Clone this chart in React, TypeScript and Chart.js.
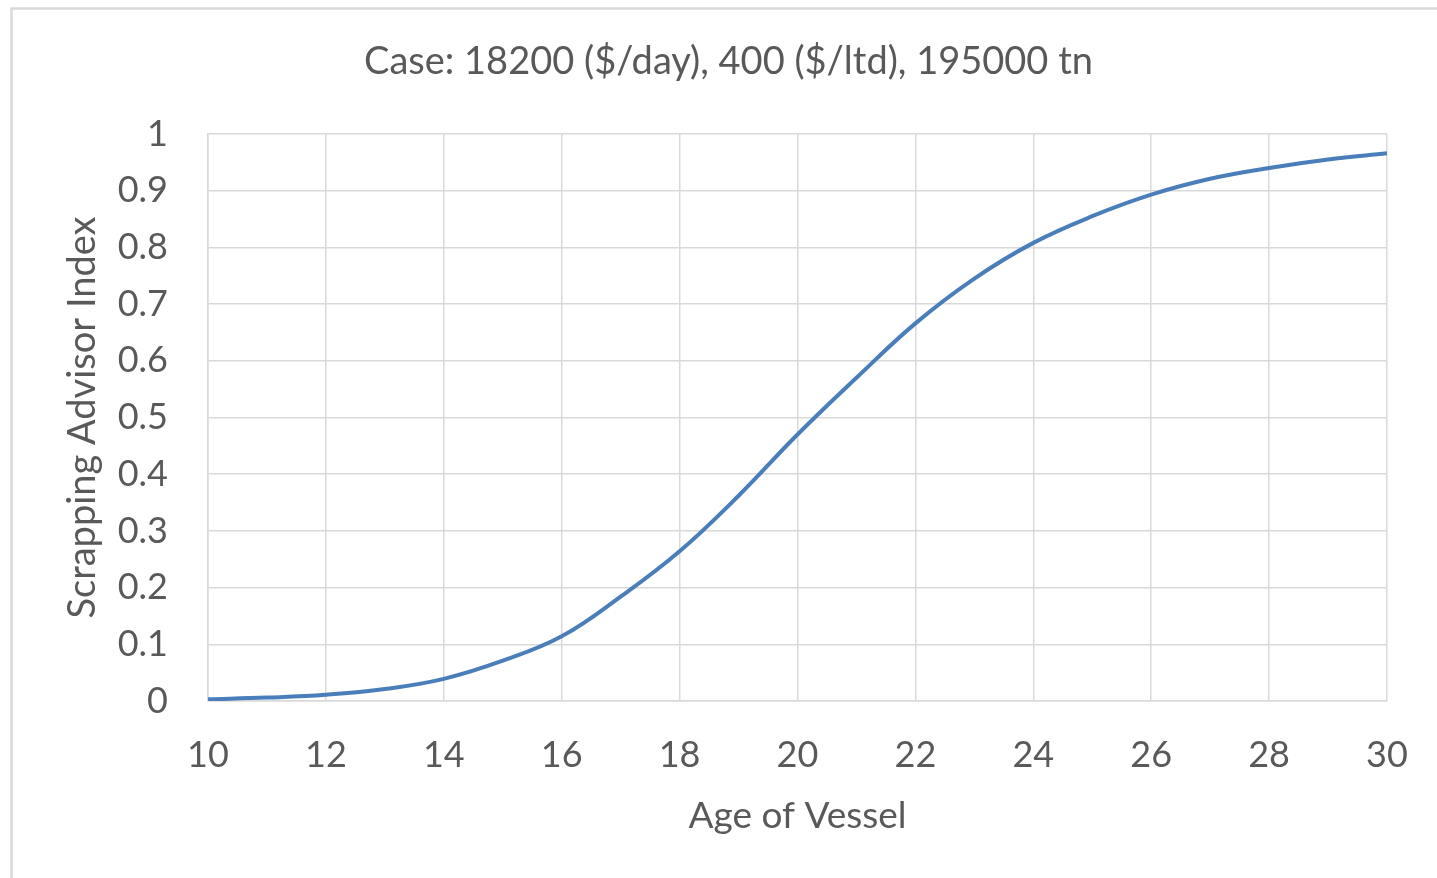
import React, { useEffect, useRef } from "react";
import { Chart, registerables } from "chart.js";

Chart.register(...registerables);

const chartTitle = "Case: 18200 ($/day), 400 ($/ltd), 195000 tn";
const xAxisTitle = "Age of Vessel";
const yAxisTitle = "Scrapping Advisor Index";

const ages = [10, 11, 12, 13, 14, 15, 16, 17, 18, 19, 20, 21, 22, 23, 24, 25, 26, 27, 28, 29, 30];
const indexValues = [
  0.003, 0.006, 0.011, 0.021, 0.039, 0.071, 0.114, 0.184, 0.264, 0.362, 0.47,
  0.57, 0.666, 0.745, 0.808, 0.855, 0.893, 0.921, 0.94, 0.955, 0.966,
];
const xTickLabels = ["10", "12", "14", "16", "18", "20", "22", "24", "26", "28", "30"];
const yTickLabels = ["0", "0.1", "0.2", "0.3", "0.4", "0.5", "0.6", "0.7", "0.8", "0.9", "1"];

const FONT = "Lato, 'Open Sans', sans-serif";
const TEXT = "#595959";
const GRID = "#d9d9d9";

export default function App() {
  const ref = useRef<HTMLCanvasElement | null>(null);

  useEffect(() => {
    if (!ref.current) return;
    const framePlugin = {
      id: "frame",
      beforeDraw(chart: any) {
        const ctx = chart.ctx;
        ctx.save();
        ctx.fillStyle = "#ffffff";
        ctx.fillRect(0, 0, chart.width, chart.height);
        ctx.strokeStyle = GRID;
        ctx.lineWidth = 2.5;
        ctx.strokeRect(11.5, 8.5, 3000, 3000);
        ctx.fillStyle = TEXT;
        ctx.font = `38px ${FONT}`;
        ctx.textAlign = "center";
        ctx.textBaseline = "middle";
        ctx.fillText(chartTitle, 728.5, 61.5);
        ctx.restore();
      },
    };

    const chart = new Chart(ref.current, {
      type: "line",
      data: {
        datasets: [
          {
            data: ages.map((a, i) => ({ x: a, y: indexValues[i] })),
            borderColor: "#4a7ebb",
            backgroundColor: "#4a7ebb",
            borderWidth: 4,
            pointRadius: 0,
            tension: 0.4,
            fill: false,
          },
        ],
      },
      options: {
        responsive: false,
        animation: false,
        devicePixelRatio: 1,
        layout: { padding: { top: 134, right: 50, bottom: 0, left: 0 } },
        plugins: { legend: { display: false }, tooltip: { enabled: false }, title: { display: false } },
        scales: {
          x: {
            type: "linear",
            min: 10,
            max: 30,
            afterFit(scale: any) {
              scale.height = 177;
              scale.paddingLeft = 0;
              scale.paddingRight = 0;
            },
            afterBuildTicks(scale: any) {
              scale.ticks = xTickLabels.map((l) => ({ value: Number(l) }));
            },
            ticks: {
              color: TEXT,
              font: { family: FONT, size: 36 },
              padding: 33,
              maxRotation: 0,
              autoSkip: false,
              callback: (v: any, i: number) => xTickLabels[i],
            },
            grid: { color: GRID, lineWidth: 1.5, drawTicks: false },
            border: { color: GRID, width: 1.5 },
            title: {
              display: true,
              text: xAxisTitle,
              color: TEXT,
              font: { family: FONT, size: 37, lineHeight: 1.2 },
              padding: { top: 0, bottom: 40 },
            },
          },
          y: {
            type: "linear",
            min: 0,
            max: 1,
            afterFit(scale: any) {
              scale.width = 208;
              scale.paddingTop = 0;
              scale.paddingBottom = 0;
            },
            afterBuildTicks(scale: any) {
              scale.ticks = yTickLabels.map((l) => ({ value: Number(l) }));
            },
            ticks: {
              color: TEXT,
              font: { family: FONT, size: 36 },
              padding: 40,
              autoSkip: false,
              callback: (v: any, i: number) => yTickLabels[i],
            },
            grid: { color: GRID, lineWidth: 1.5, drawTicks: false },
            border: { color: GRID, width: 1.5 },
            title: {
              display: true,
              text: yAxisTitle,
              color: TEXT,
              font: { family: FONT, size: 38, lineHeight: 1.2 },
              padding: { top: 60, bottom: 0 },
            },
          },
        },
      },
      plugins: [framePlugin],
    } as any);
    return () => chart.destroy();
  }, []);

  return (
    <canvas
      ref={ref}
      width={1437}
      height={878}
      style={{ position: "fixed", left: 0, top: 0, width: 1437, height: 878, display: "block" }}
    />
  );
}
